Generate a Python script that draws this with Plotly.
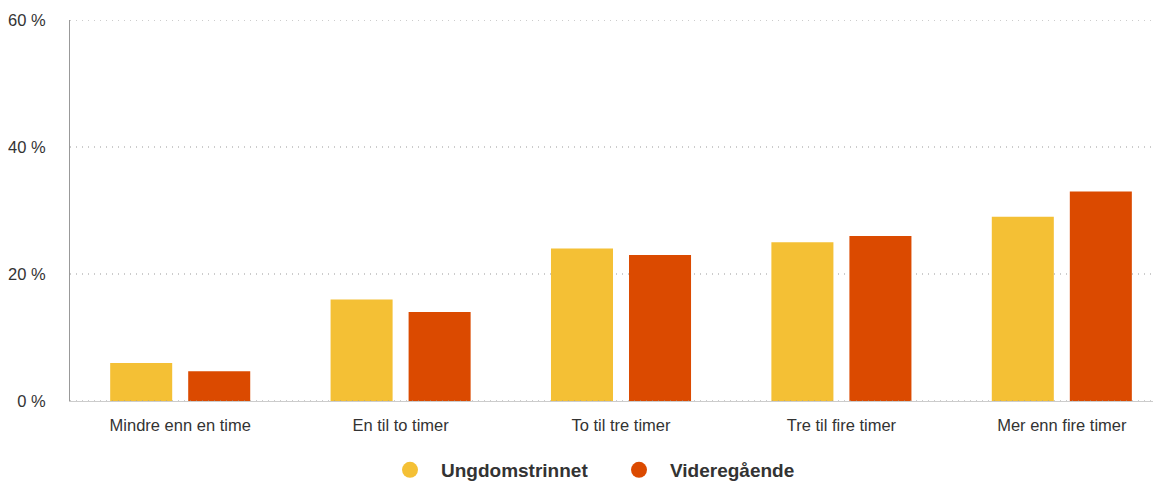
import plotly.graph_objects as go

categories = ["Mindre enn en time", "En til to timer", "To til tre timer", "Tre til fire timer", "Mer enn fire timer"]
ungdom = [6, 16, 24, 25, 29]
vgs = [4.7, 14, 23, 26, 33]
series_names = ["Ungdomstrinnet", "Videregående"]
colors = ["#F4C035", "#DB4A00"]
y_ticks = [0, 20, 40, 60]
y_tick_labels = ["0 %", "20 %", "40 %", "60 %"]

# page body has an 8px default margin; size the figure to fit the window
W, H = 1153, 475

fig = go.Figure()
for name, vals, col in zip(series_names, [ungdom, vgs], colors):
    fig.add_trace(go.Bar(x=categories, y=vals, name=name, marker_color=col,
                         marker_line_width=0, showlegend=False, hoverinfo="skip"))
for name, col in zip(series_names, colors):
    fig.add_trace(go.Scatter(x=[None], y=[None], mode="markers", name=name,
                             marker=dict(symbol="circle", size=19, color=col)))

for v in y_ticks:
    fig.add_shape(type="line", xref="paper", x0=0, x1=1, yref="y", y0=v, y1=v,
                  line=dict(color="#999", width=1.2, dash="1px,5px"),
                  layer="above" if v == 0 else "below")

fig.update_layout(
    width=W, height=H,
    margin=dict(l=62, r=0, t=12, b=82, autoexpand=False),
    plot_bgcolor="white", paper_bgcolor="white",
    barmode="group", bargap=0.292, bargroupgap=0.205,
    font=dict(family="Liberation Sans, Arial, sans-serif", size=16.5, color="#333"),
    legend=dict(orientation="h", xref="container", yref="container",
                x=371/W, xanchor="left", y=13/H, yanchor="middle",
                font=dict(size=19, color="#333", weight="bold"), itemwidth=52,
                entrywidthmode="pixels", entrywidth=162),
    showlegend=True,
)
fig.update_yaxes(range=[0, 60], tickvals=y_ticks, ticktext=y_tick_labels,
                 showgrid=False, automargin=False,
                 showline=True, linecolor="#999", linewidth=1, zeroline=False,
                 ticklabelstandoff=20, tickfont=dict(size=16.5, color="#333"))
fig.update_xaxes(range=[-0.5, 4.45], showline=True, linecolor="#ccc", linewidth=1,
                 automargin=False,
                 tickfont=dict(size=16.5, color="#333"), ticklabelstandoff=9)

fig.write_html("out.html")
